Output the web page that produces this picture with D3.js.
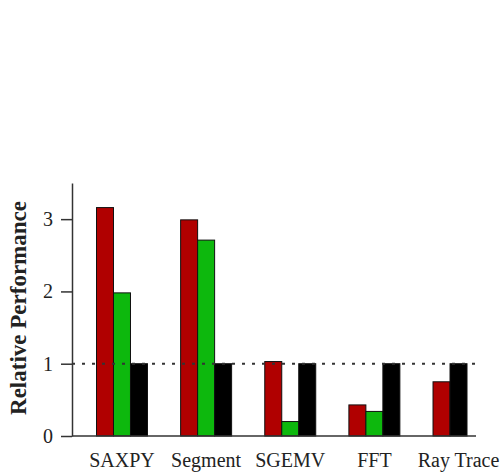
<!DOCTYPE html>
<html>
<head>
<meta charset="utf-8">
<script src="https://cdn.jsdelivr.net/npm/d3@7"></script>
</head>
<body style="margin:0;background:#fff">
<div id="container"></div>
<script>
/**
 * DATA
 * */
const categories = ["SAXPY", "Segment", "SGEMV", "FFT", "Ray Trace"];
const seriesRed = [3.16, 2.99, 1.03, 0.43, 0.75];
const seriesGreen = [1.98, 2.71, 0.20, 0.34, null]; // no green bar for Ray Trace
const seriesBlack = [1.0, 1.0, 1.0, 1.0, 1.0];
const yTicks = [0, 1, 2, 3];
const baseline = 1;

/**
 * CONSTANTS
 * */
const width = 503,
  height = 473;
const colors = ["#b00000", "#0db80d", "#000000"];
const serif = "Liberation Serif, Times New Roman, serif";

const svg = d3.select("#container")
  .append("svg")
  .attr("width", width)
  .attr("height", height)
  .style("font-family", serif);

// scales
const y = d3.scaleLinear().domain([0, 3.5]).range([436, 183]);
const x = d3.scaleBand()
  .domain(categories)
  .range([96.5, 484])
  .paddingInner(0.394)
  .paddingOuter(0);
const barW = x.bandwidth() / 3;

// build the bar list: present values are packed left inside each group
const bars = [];
categories.forEach((c, i) => {
  const vals = [seriesRed[i], seriesGreen[i], seriesBlack[i]];
  let slot = 0;
  vals.forEach((v, s) => {
    if (v == null) return;
    bars.push({ cat: c, slot: slot, value: v, color: colors[s] });
    slot++;
  });
});

svg.append("g")
  .selectAll("rect")
  .data(bars)
  .join("rect")
  .attr("x", d => x(d.cat) + d.slot * barW)
  .attr("y", d => y(d.value))
  .attr("width", barW)
  .attr("height", d => y(0) - y(d.value))
  .attr("fill", d => d.color)
  .attr("stroke", "#111")
  .attr("stroke-width", 1);

// dotted reference line at 1 (drawn over the bars)
svg.append("line")
  .attr("x1", 72)
  .attr("x2", 477)
  .attr("y1", y(baseline))
  .attr("y2", y(baseline))
  .attr("stroke", "#333")
  .attr("stroke-width", 2)
  .attr("stroke-dasharray", "3,7");

// y axis
const yAxis = svg.append("g")
  .attr("transform", "translate(72,0)")
  .call(d3.axisLeft(y).tickValues(yTicks).tickFormat(d3.format("d")).tickSize(11).tickSizeOuter(0).tickPadding(8));
yAxis.attr("font-family", null).attr("font-size", null);
yAxis.select(".domain").attr("stroke", "#333").attr("stroke-width", 1.5);
yAxis.selectAll(".tick line").attr("stroke", "#333").attr("stroke-width", 1.5);
yAxis.selectAll("text").attr("fill", "#222").style("font-family", serif).style("font-size", "20px");

// x axis baseline
svg.append("line")
  .attr("x1", 72)
  .attr("x2", 476)
  .attr("y1", y(0))
  .attr("y2", y(0))
  .attr("stroke", "#333")
  .attr("stroke-width", 1.5);

// x labels
const xAxis = svg.append("g")
  .attr("transform", `translate(0,${y(0)})`)
  .call(d3.axisBottom(x).tickSize(0).tickPadding(17));
xAxis.attr("font-family", null).attr("font-size", null);
xAxis.select(".domain").remove();
xAxis.selectAll("text").attr("fill", "#222").style("font-family", serif).style("font-size", "20px");

// y label
svg.append("text")
  .attr("transform", "translate(26,308) rotate(-90)")
  .attr("text-anchor", "middle")
  .style("font-family", serif)
  .style("font-size", "23px")
  .style("font-weight", "bold")
  .attr("fill", "#222")
  .text("Relative Performance");
</script>
</body>
</html>
